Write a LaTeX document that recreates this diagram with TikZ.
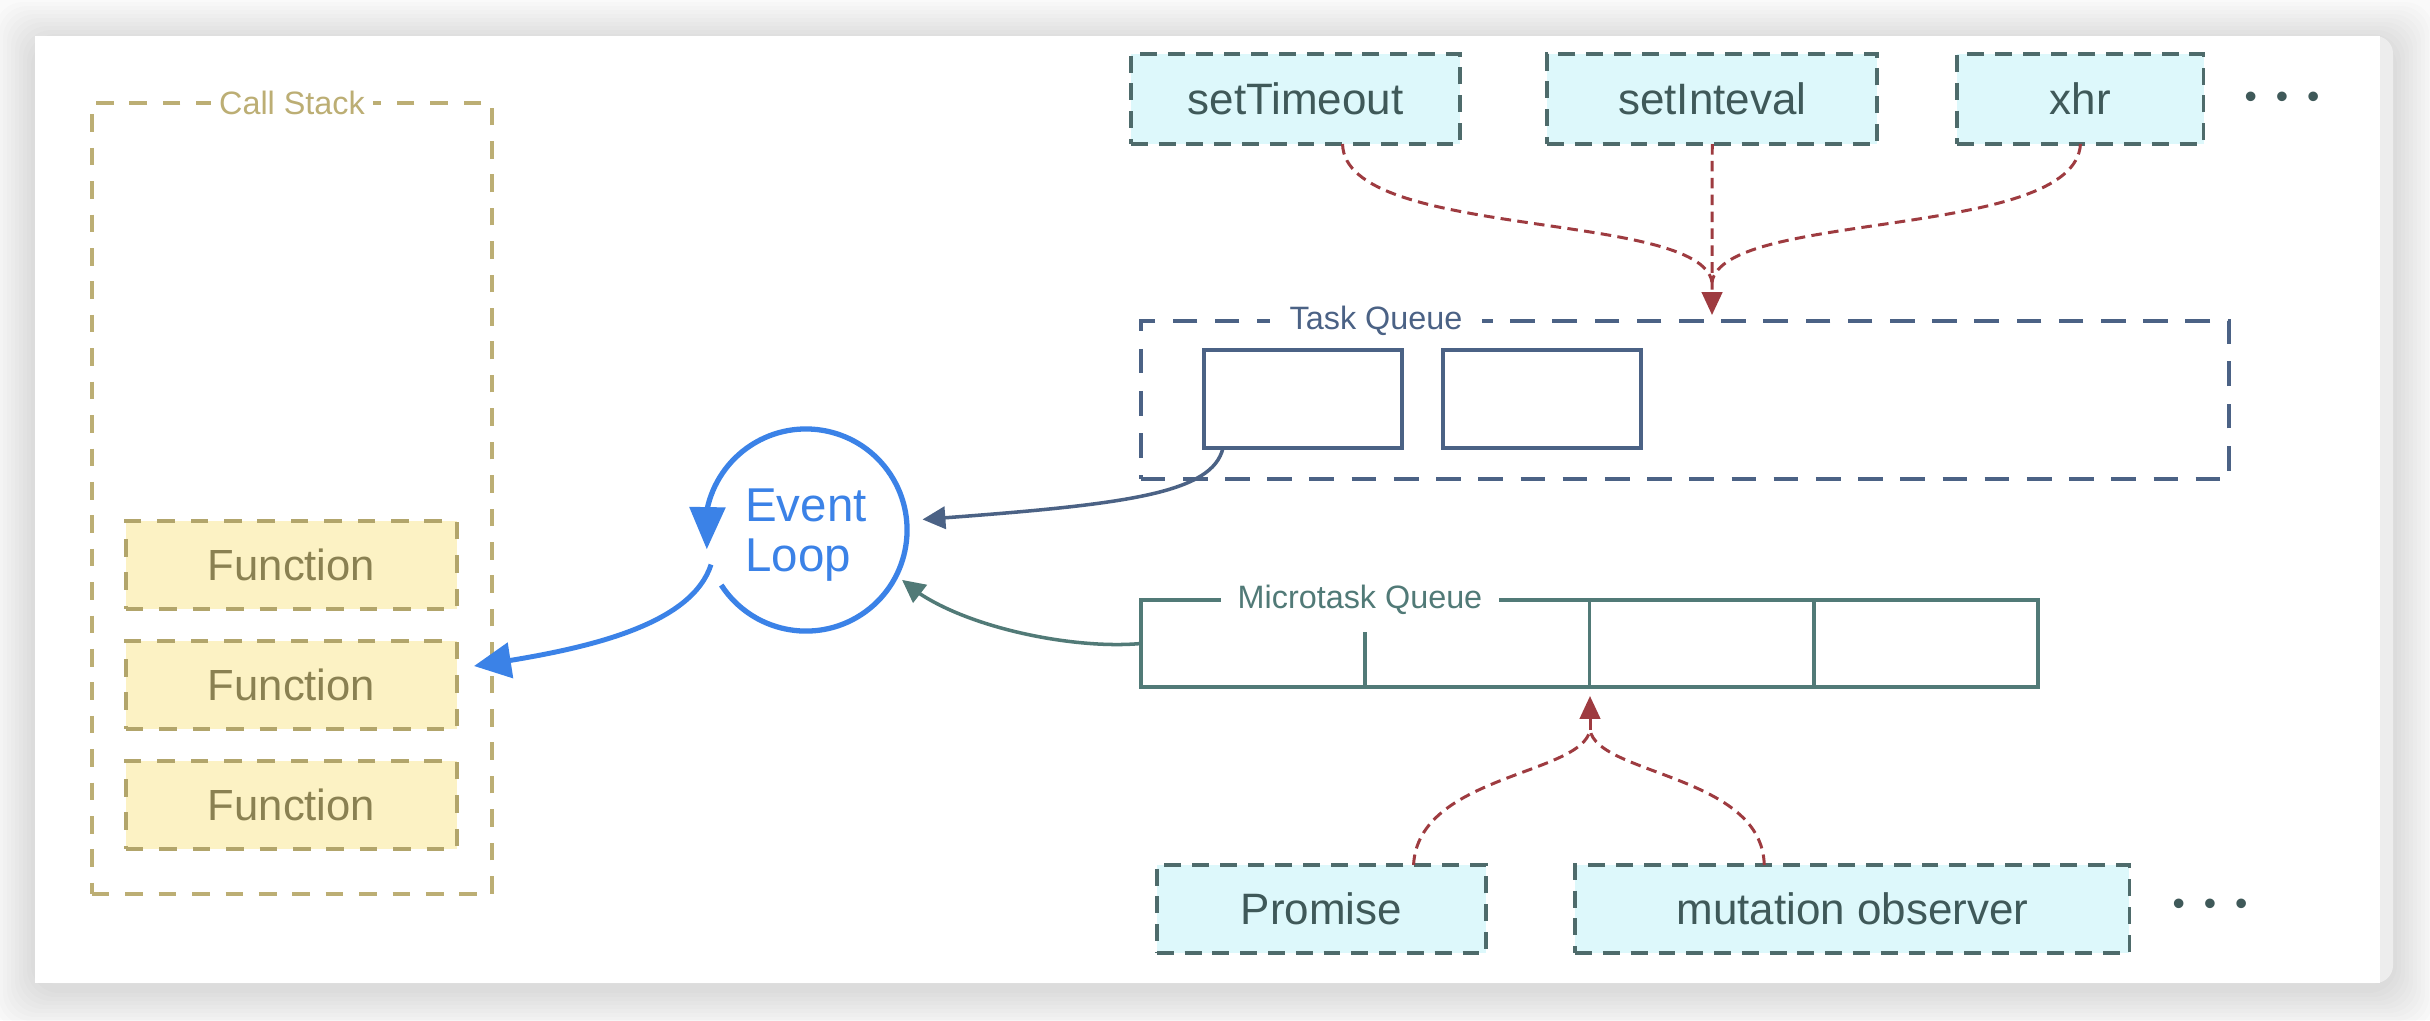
\documentclass[tikz,border=0pt]{standalone}
\usepackage{fontspec}
\setmainfont{Liberation Sans}
\usetikzlibrary{arrows.meta,bending,calc,positioning}
\definecolor{stackline}{HTML}{BCAE74}
\definecolor{funcline}{HTML}{B2A56B}
\definecolor{funcfill}{HTML}{FCF2C4}
\definecolor{functext}{HTML}{8A8152}
\definecolor{loopblue}{HTML}{3B82E7}
\definecolor{taskline}{HTML}{4B6285}
\definecolor{microline}{HTML}{517A77}
\definecolor{apifill}{HTML}{DDF8FB}
\definecolor{apiline}{HTML}{4E6B6B}
\definecolor{apitext}{HTML}{3F5959}
\definecolor{feedred}{HTML}{9E3B40}
\tikzset{
  stackbox/.style={draw=stackline,line width=1pt,dash pattern=on 5pt off 4.5pt,inner sep=0pt,outer sep=0pt},
  funcbox/.style={draw=funcline,fill=funcfill,line width=1pt,dash pattern=on 5pt off 4.5pt,
    minimum width=3.31cm,minimum height=.88cm,inner sep=0pt,outer sep=0pt,text=functext,
    font=\fontsize{12.4}{14}\selectfont},
  boxlabel/.style={fill=white,inner ysep=1pt,font=\fontsize{9.2}{11}\selectfont},
  queuebox/.style={draw=taskline,line width=1.1pt,dash pattern=on 7pt off 5pt,inner sep=0pt,outer sep=0pt},
  taskcell/.style={draw=taskline,line width=1.1pt,minimum width=1.98cm,minimum height=.98cm,inner sep=0pt,outer sep=0pt},
  microbox/.style={draw=microline,line width=1.1pt,inner sep=0pt,outer sep=0pt},
  apibox/.style={draw=apiline,fill=apifill,line width=1.1pt,dash pattern=on 4.8pt off 3.1pt,
    minimum height=.9cm,inner sep=0pt,outer sep=0pt,text=apitext,font=\fontsize{12.5}{14}\selectfont},
  moredots/.style={text=apitext,inner sep=0pt,font=\fontsize{10}{12}\selectfont},
  looptext/.style={align=left,inner sep=0pt,text=loopblue,font=\fontsize{13.5}{14}\selectfont},
  ring/.style={draw=loopblue,line width=1.5pt,-{Triangle[length=12pt,width=10pt]}},
  blueflow/.style={draw=loopblue,line width=1.4pt,-{Triangle[length=10.5pt,width=10pt]}},
  taskflow/.style={draw=taskline,line width=1pt,-{Triangle[length=6.5pt,width=6.3pt]}},
  microflow/.style={draw=microline,line width=1pt,-{Triangle[length=6.5pt,width=6.3pt]}},
  feed/.style={draw=feedred,line width=.85pt,dash pattern=on 3pt off 1.8pt},
  feedtip/.style={feed,-{Triangle[length=6.5pt,width=5.8pt]}}
}
\newcommand{\dotrow}{\textbullet\hspace{.19cm}\textbullet\hspace{.19cm}\textbullet}

\begin{document}
\begin{tikzpicture}[x=.01cm,y=-.01cm]
  \useasboundingbox (0,0) rectangle (2430,1020);
  % window and its shadow
  \fill[black!2] (0,0) rectangle (2430,1020);
  \foreach \r in {4,8,...,40}
    \fill[black,opacity=.012,rounded corners=8pt] (35-\r,42-\r) rectangle (2393+\r,989+\r);
  \fill[black!7,rounded corners=5pt] (35,36) rectangle (2393,983);
  \fill[white] (35,36) rectangle (2380,983);

  % call stack
  \node[stackbox,minimum width=4cm,minimum height=7.91cm] (stack) at (292,498.5) {};
  \node[boxlabel,text=stackline,inner xsep=.08cm] (stacklbl) at (stack.north) {Call Stack};
  \node[funcbox] (f1) at (291.5,565) {Function};
  \node[funcbox,below=.32cm of f1] (f2) {Function};
  \node[funcbox,below=.32cm of f2] (f3) {Function};

  % event loop
  \node[circle,minimum size=2.02cm,inner sep=0pt,outer sep=0pt] (loop) at (806,530) {};
  \node[looptext] (looplbl) at ([yshift=-.05cm]loop.center) {Event\\Loop};
  \draw[ring] (loop.213) arc[start angle=213,end angle=551,radius=1.01cm];
  \coordinate (stackin) at (474,666);
  \draw[blueflow] (loop.200) .. controls (690,630) and (570,652) .. (stackin);

  % task queue
  \node[queuebox,minimum width=10.88cm,minimum height=1.58cm] (taskq) at (1685,400) {};
  \node[boxlabel,text=taskline,inner xsep=.2cm] (tasklbl) at (1376,321) {Task Queue};
  \node[taskcell] (t1) at (1303,399) {};
  \node[taskcell,right=.41cm of t1] (t2) {};
  \draw[taskflow] ([xshift=.19cm]t1.south west) .. controls (1212,495) and (1120,505) .. ([xshift=.16cm]loop.6);

  % microtask queue
  \node[microbox,minimum width=8.97cm,minimum height=.87cm] (microq) at (1589.5,643.5) {};
  \node[boxlabel,text=microline,inner xsep=.17cm] (microlbl) at (1360,600) {Microtask Queue};
  \foreach \f in {.5,.75}
    \draw[microline,line width=1.1pt] ($(microq.south west)!\f!(microq.south east)$) -- ($(microq.north west)!\f!(microq.north east)$);
  \draw[microline,line width=1.1pt] ($(microq.south west)!.25!(microq.south east)$) -- ++(0,-55);
  \draw[microflow] (microq.west) .. controls (1070,650) and (950,625) .. ([shift={(.06cm,-.04cm)}]loop.-27);

  % task sources
  \node[apibox,minimum width=3.29cm] (st) at (1295.5,99) {setTimeout};
  \node[apibox,minimum width=3.3cm,right=.87cm of st] (si) {setInteval};
  \node[apibox,minimum width=2.46cm,right=.8cm of si] (xhr) {xhr};
  \node[moredots] (taskdots) at (2282,100) {\dotrow};
  \coordinate (taskin) at (1712,315);
  \coordinate (taskjoin) at (1712,282);
  \draw[feedtip] (si.south) -- (taskin);
  \draw[feed] ([xshift=.47cm]st.south) .. controls (1345,240) and (1700,210) .. (taskjoin);
  \draw[feed] (xhr.south) .. controls (2075,240) and (1724,210) .. (taskjoin);

  % microtask sources
  \node[apibox,minimum width=3.29cm,minimum height=.88cm] (pr) at (1321.5,909) {Promise};
  \node[apibox,minimum width=5.54cm,minimum height=.88cm,right=.89cm of pr] (mo) {mutation observer};
  \node[moredots] (microdots) at (2210,907) {\dotrow};
  \coordinate (microin) at (1590,696);
  \coordinate (microjoin) at (1590,730);
  \draw[feed] ([xshift=.92cm]pr.north) .. controls (1418,775) and (1582,775) .. (microjoin);
  \draw[feed] ([xshift=-.88cm]mo.north) .. controls (1762,775) and (1598,775) .. (microjoin);
  \draw[feedtip] (microjoin) -- (microin);
\end{tikzpicture}
\end{document}
